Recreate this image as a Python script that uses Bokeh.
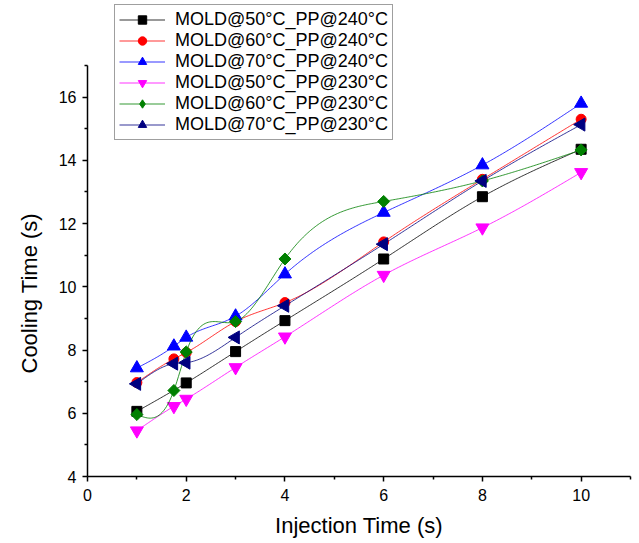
import numpy as np
from bokeh.plotting import figure
from bokeh.models import Range1d, Legend, LegendItem, FixedTicker, Title
from bokeh.embed import file_html
from bokeh.resources import INLINE

# ---- data ----
names = ["MOLD@50°C_PP@240°C", "MOLD@60°C_PP@240°C", "MOLD@70°C_PP@240°C",
         "MOLD@50°C_PP@230°C", "MOLD@60°C_PP@230°C", "MOLD@70°C_PP@230°C"]

x_m50_240 = [1, 2, 3, 4, 6, 8, 10]
y_m50_240 = [6.06, 6.96, 7.95, 8.93, 10.88, 12.85, 14.35]

x_m60_240 = [1, 1.75, 2, 3, 4, 6, 8, 10]
y_m60_240 = [6.97, 7.72, 7.92, 8.9, 9.5, 11.42, 13.4, 15.3]

x_m70_240 = [1, 1.75, 2, 3, 4, 6, 8, 10]
y_m70_240 = [7.43, 8.12, 8.4, 9.07, 10.4, 12.35, 13.85, 15.8]

x_m50_230 = [1, 1.75, 2, 3, 4, 6, 8, 10]
y_m50_230 = [5.45, 6.22, 6.45, 7.45, 8.42, 10.37, 11.87, 13.62]

x_m60_230 = [1, 1.75, 2, 3, 4, 6, 8, 10]
y_m60_230 = [5.96, 6.72, 7.94, 8.9, 10.88, 12.7, 13.35, 14.33]

x_m70_230 = [1, 1.75, 2, 3, 4, 6, 8, 10]
y_m70_230 = [6.93, 7.57, 7.6, 8.4, 9.4, 11.35, 13.35, 15.13]

x_major = [0, 2, 4, 6, 8, 10]
x_minor = [1, 3, 5, 7, 9, 11]
y_major = [4, 6, 8, 10, 12, 14, 16]
y_minor = [5, 7, 9, 11, 13, 15, 17]

x_title = "Injection Time (s)"
y_title = "Cooling Time (s)"


def natural_spline(xs, ys, n=300):
    x = np.asarray(xs, float)
    y = np.asarray(ys, float)
    k = len(x)
    h = np.diff(x)
    A = np.zeros((k, k))
    b = np.zeros(k)
    A[0, 0] = 1
    A[-1, -1] = 1
    for i in range(1, k - 1):
        A[i, i - 1] = h[i - 1]
        A[i, i] = 2 * (h[i - 1] + h[i])
        A[i, i + 1] = h[i]
        b[i] = 6 * ((y[i + 1] - y[i]) / h[i] - (y[i] - y[i - 1]) / h[i - 1])
    M = np.linalg.solve(A, b)
    xx = np.linspace(x[0], x[-1], n)
    yy = np.empty_like(xx)
    for j, t in enumerate(xx):
        i = min(np.searchsorted(x, t, side="right") - 1, k - 2)
        i = max(i, 0)
        hi = h[i]
        a = (x[i + 1] - t) / hi
        c = (t - x[i]) / hi
        yy[j] = (a * y[i] + c * y[i + 1]
                 + ((a ** 3 - a) * M[i] + (c ** 3 - c) * M[i + 1]) * hi * hi / 6)
    return xx, yy


FONT = "Liberation Sans"

# frame: 87..630 px horizontally, 0..476 px vertically (axis drawn 4..17 only)
p = figure(width=639, height=543, output_backend="svg", toolbar_location=None,
           x_range=Range1d(0, 11), y_range=Range1d(4, 4 + 476 * 13 / 411),
           min_border_left=87, min_border_right=9, min_border_top=0,
           min_border_bottom=67)
p.outline_line_color = None
p.xgrid.visible = False
p.ygrid.visible = False
p.background_fill_color = "white"
p.border_fill_color = "white"

series = [
    (x_m50_240, y_m50_240, "black", "square", 0.0, 10, None),
    (x_m60_240, y_m60_240, "red", "circle", 0.0, 10, None),
    (x_m70_240, y_m70_240, "blue", "triangle", 0.0, 13, None),
    (x_m50_230, y_m50_230, "magenta", "inverted_triangle", 0.0, 13, None),
    (x_m60_230, y_m60_230, "green", "square", np.pi / 4, 8.5, "diamond"),
    (x_m70_230, y_m70_230, "navy", "triangle", np.pi / 2, 13, None),
]

items = []
for (xs, ys, col, mk, ang, sz, legmk), name in zip(series, names):
    sx, sy = natural_spline(xs, ys)
    r1 = p.line(sx, sy, line_color=col, line_width=1, line_alpha=0.8)
    r2 = p.scatter(xs, ys, marker=mk, angle=ang, size=sz, fill_color=col,
                   line_color=col)
    rends = [r1, r2]
    if legmk is not None:
        r3 = p.scatter(xs, ys, marker=legmk, size=sz, fill_color=col,
                       line_color=col, visible=False)
        rends = [r1, r3]
    items.append(LegendItem(label=name, renderers=rends))

for ax in (p.xaxis[0], p.yaxis[0]):
    ax.axis_line_width = 1.5
    ax.axis_line_color = "black"
    ax.major_tick_in = 0
    ax.major_tick_out = 5
    ax.minor_tick_in = 0
    ax.minor_tick_out = 3
    ax.major_tick_line_width = 1.5
    ax.minor_tick_line_width = 1.5
    ax.major_label_text_font = FONT
    ax.major_label_text_font_size = "16px"
    ax.major_label_text_color = "black"
    ax.axis_label_text_font = FONT
    ax.axis_label_text_font_size = "22px"
    ax.axis_label_text_font_style = "normal"
    ax.axis_label_text_color = "black"

p.yaxis[0].bounds = (4, 17)
p.xaxis[0].ticker = FixedTicker(ticks=x_major, minor_ticks=x_minor)
p.yaxis[0].ticker = FixedTicker(ticks=y_major, minor_ticks=y_minor)
p.xaxis[0].axis_label = x_title
p.xaxis[0].major_label_standoff = 7
p.xaxis[0].axis_label_standoff = 9
p.yaxis[0].major_label_standoff = 6

# y-axis title placed along the drawn part of the axis (4..17)
ytitle = Title(text=y_title, align="left", offset=103, vertical_align="middle",
               text_font=FONT, text_font_size="22px", text_font_style="normal",
               text_color="black", standoff=26)
p.add_layout(ytitle, "left")

legend = Legend(items=items, location=(27, 336), orientation="vertical",
                label_text_font=FONT, label_text_font_size="18px",
                label_text_color="black", label_height=21, glyph_height=21,
                glyph_width=46, label_standoff=10, spacing=0, padding=4,
                margin=0, border_line_color="#404040", border_line_width=1,
                background_fill_color="white", background_fill_alpha=1)
p.add_layout(legend, "center")

open("out.html", "w").write(file_html(p, INLINE))
